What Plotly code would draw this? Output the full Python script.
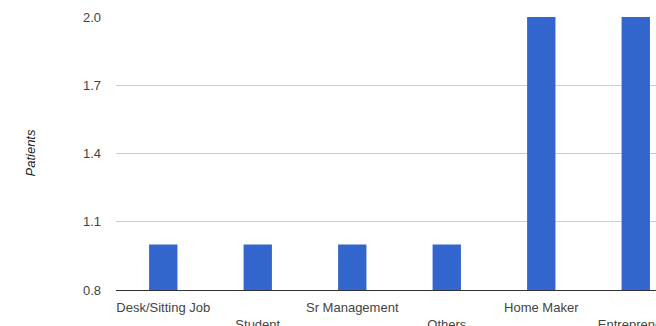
import plotly.graph_objects as go

categories = ["Desk/Sitting Job", "Student", "Sr Management", "Others", "Home Maker", "Entrepreneur"]
patients = [1, 1, 1, 1, 2, 2]
y_ticks = [0.8, 1.1, 1.4, 1.7, 2.0]
y_labels = ["0.8", "1.1", "1.4", "1.7", "2.0"]

tick_text = [c if i % 2 == 0 else "<br>" + c for i, c in enumerate(categories)]

fig = go.Figure(go.Bar(
    x=list(range(len(categories))),
    y=patients,
    marker=dict(color="#3366cc", line=dict(width=0)),
    width=0.3,
))

fig.update_layout(
    width=656, height=326,
    margin=dict(l=116, r=0, t=17, b=36, autoexpand=False),
    plot_bgcolor="white", paper_bgcolor="white",
    font=dict(family="Liberation Sans, Arial", size=13, color="#444444"),
    showlegend=False,
    xaxis=dict(
        range=[-0.5, 5.214],
        tickmode="array",
        tickvals=list(range(len(categories))),
        ticktext=tick_text,
        showgrid=False,
        showline=True, linecolor="#333333", linewidth=1,
        ticks="", ticklabelstandoff=5,
        ticklabeloverflow="allow",
    ),
    yaxis=dict(
        range=[0.8, 2.0],
        tickmode="array",
        tickvals=y_ticks,
        ticktext=y_labels,
        showgrid=True, gridcolor="#cccccc", gridwidth=1,
        zeroline=False,
        ticks="", ticklabelstandoff=14,
    ),
    annotations=[dict(
        text="<i>Patients</i>", textangle=-90,
        xref="paper", yref="paper",
        x=-86 / 540, y=0.5, xanchor="center", yanchor="middle",
        showarrow=False, font=dict(size=13, color="#222222"),
    )],
)

fig.write_html("out.html")
